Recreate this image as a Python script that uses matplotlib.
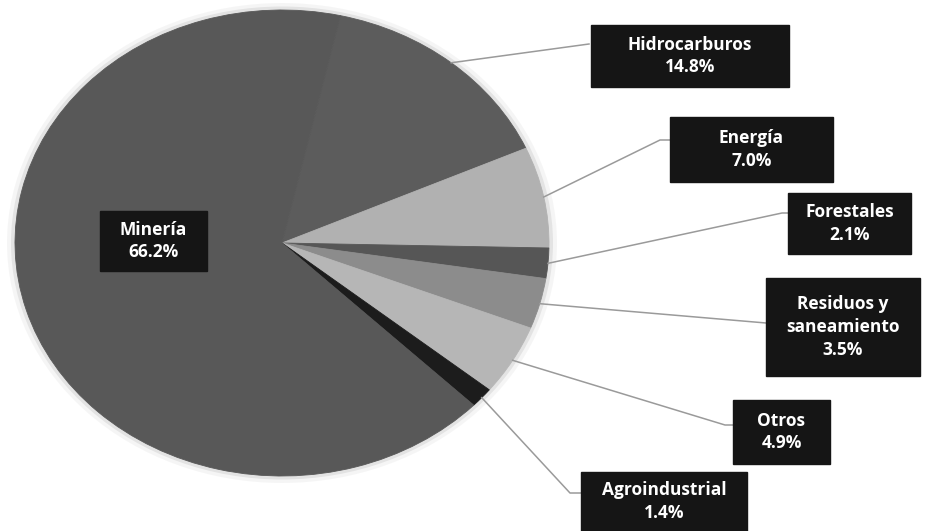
import numpy as np
import matplotlib
matplotlib.use('Agg')
import matplotlib.pyplot as plt
from matplotlib.patches import Rectangle, Ellipse

plt.rcParams['font.family'] = ['Open Sans', 'DejaVu Sans']

# data
sectores = ['Hidrocarburos', 'Energía', 'Forestales', 'Residuos y\nsaneamiento',
            'Otros', 'Agroindustrial', 'Minería']
porcentajes = [14.8, 7.0, 2.1, 3.5, 4.9, 1.4, 66.2]
colores = ['#5c5c5c', '#b1b1b1', '#565656', '#8c8c8c', '#b6b6b6', '#1c1c1c', '#585858']

W, H = 925, 531
fig = plt.figure(figsize=(W / 100, H / 100), dpi=100)
fig.patch.set_facecolor('white')

# pie is drawn a bit stretched horizontally, like the reference
cx, cy, rx, ry = 282, 243, 267, 233
pie_ax = fig.add_axes([(cx - rx) / W, (H - cy - ry) / H, 2 * rx / W, 2 * ry / H])
start = 24 + porcentajes[0] / sum(porcentajes) * 360
wedges, _ = pie_ax.pie(porcentajes, colors=colores, startangle=start,
                       counterclock=False, radius=1)
for w, c in zip(wedges, colores):
    w.set_edgecolor(c)
    w.set_linewidth(0.6)
pie_ax.set_aspect('auto')
pie_ax.set_xlim(-1, 1)
pie_ax.set_ylim(-1, 1)
pie_ax.axis('off')
# soft halo around the pie
for k, a in [(1.03, 0.08), (1.015, 0.16)]:
    pie_ax.add_patch(Ellipse((0, 0), 2 * k, 2 * k, color='#888888', alpha=a,
                             zorder=0, lw=0, clip_on=False))

# overlay in pixel coordinates for boxes and leader lines
ov = fig.add_axes([0, 0, 1, 1], zorder=5)
ov.set_xlim(0, W)
ov.set_ylim(H, 0)
ov.axis('off')
ov.patch.set_alpha(0)

# label boxes: x0, y0, x1, y1 and elbow / end points of the leader line
cajas = {
    'Hidrocarburos': ((591, 25, 789, 87), [(589, 44)]),
    'Energía': ((670, 117, 833, 182), [(660, 140), (670, 140)]),
    'Forestales': ((788, 193, 911, 254), [(782, 213), (788, 213)]),
    'Residuos y\nsaneamiento': ((766, 278, 920, 376), [(766, 323)]),
    'Otros': ((733, 400, 830, 464), [(725, 425), (733, 425)]),
    'Agroindustrial': ((581, 472, 747, 531), [(570, 493), (581, 493)]),
}

estilo = dict(color='white', ha='center', va='center', fontsize=12.5,
              fontweight='bold', linespacing=1.35, zorder=7)

for w, nombre, p in zip(wedges, sectores, porcentajes):
    ang = np.deg2rad((w.theta1 + w.theta2) / 2)
    if nombre == 'Minería':
        ov.add_patch(Rectangle((100, 211), 107, 60, color='#151515', zorder=6))
        ov.text(153.5, 241, f'{nombre}\n{p:.1f}%', **estilo)
        continue
    px, py = fig.transFigure.inverted().transform(
        pie_ax.transData.transform((np.cos(ang), np.sin(ang))))
    sx, sy = px * W, (1 - py) * H
    (x0, y0, x1, y1), pts = cajas[nombre]
    xs = [sx] + [q[0] for q in pts]
    ys = [sy] + [q[1] for q in pts]
    ov.plot(xs, ys, color='#9a9a9a', lw=1.1, zorder=4)
    ov.add_patch(Rectangle((x0, y0), x1 - x0, y1 - y0, color='#151515', zorder=6))
    ov.text((x0 + x1) / 2, (y0 + y1) / 2, f'{nombre}\n{p:.1f}%', **estilo)

fig.savefig('out.png', dpi=100, facecolor='white')
